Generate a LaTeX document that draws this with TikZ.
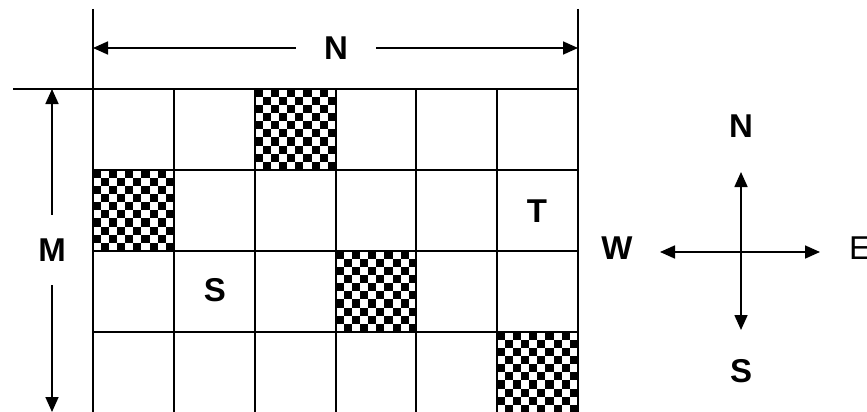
\documentclass[tikz,border=0pt]{standalone}
\usepackage{fontspec}
\setmainfont{Liberation Sans}
\usetikzlibrary{arrows.meta}
\tikzset{
  gridline/.style={line width=1.8pt},
  dimarrow/.style={line width=1.7pt,{Triangle[length=15pt,width=13pt]}-{Triangle[length=15pt,width=13pt]}},
  comparrow/.style={line width=1.7pt,-{Triangle[length=15pt,width=13pt]}},
  lbl/.style={font=\fontsize{33}{34}\selectfont\bfseries,inner sep=0pt},
  lblreg/.style={font=\fontsize{33}{34}\selectfont,inner sep=0pt},
}
\newcommand\drawchecker[2]{%
  \foreach \i in {0,...,9}{\foreach \j in {0,...,9}{%
    \pgfmathtruncatemacro\chkp{mod(\i+\j,2)}%
    \ifnum\chkp=0 \fill[black] ({#1+\i*8.08},{#2+\j*8.08}) rectangle ++(8.08,8.08);\fi
  }}}
\begin{document}
\begin{tikzpicture}[x=1pt,y=-1pt]
\useasboundingbox (0,0) rectangle (867,412);
% checkered cells
\drawchecker{255}{89}
\drawchecker{93}{170}
\drawchecker{336}{251}
\drawchecker{497}{332}
% grid
\draw[gridline] (13,89) -- (578,89);
\foreach \y in {170,251,332}{\draw[gridline] (93,\y) -- (578,\y);}
\draw[gridline] (93,9) -- (93,412);
\draw[gridline] (578,9) -- (578,412);
\foreach \x in {174,255,336,416,497}{\draw[gridline] (\x,89) -- (\x,412);}
% dimension N
\coordinate (nl) at (93,48);
\coordinate (nr) at (578,48);
\draw[dimarrow] (nl) -- (nr);
\node[lbl,fill=white,inner xsep=28pt,inner ysep=4pt] (nlab) at (336,48) {N};
% dimension M
\coordinate (mt) at (52,89);
\coordinate (mb) at (52,412);
\draw[dimarrow] (mt) -- (mb);
\node[lbl,fill=white,inner xsep=4pt,inner ysep=24pt] (mlab) at (52,250) {M};
% cell labels
\node[lbl] (s) at (215,290) {S};
\node[lbl] (t) at (537,211) {T};
% compass
\coordinate (c) at (741,252);
\coordinate (cn) at (741,172);
\coordinate (cs) at (741,330);
\coordinate (cw) at (660,252);
\coordinate (ce) at (820,252);
\draw[comparrow] (c) -- (cn);
\draw[comparrow] (c) -- (cs);
\draw[comparrow] (c) -- (cw);
\draw[comparrow] (c) -- (ce);
\node[lbl] (ln) at (741,126) {N};
\node[lbl] (ls) at (741,371) {S};
\node[lbl] (lw) at (617,248) {W};
\node[lblreg] (le) at (860,248) {E};
\end{tikzpicture}
\end{document}
